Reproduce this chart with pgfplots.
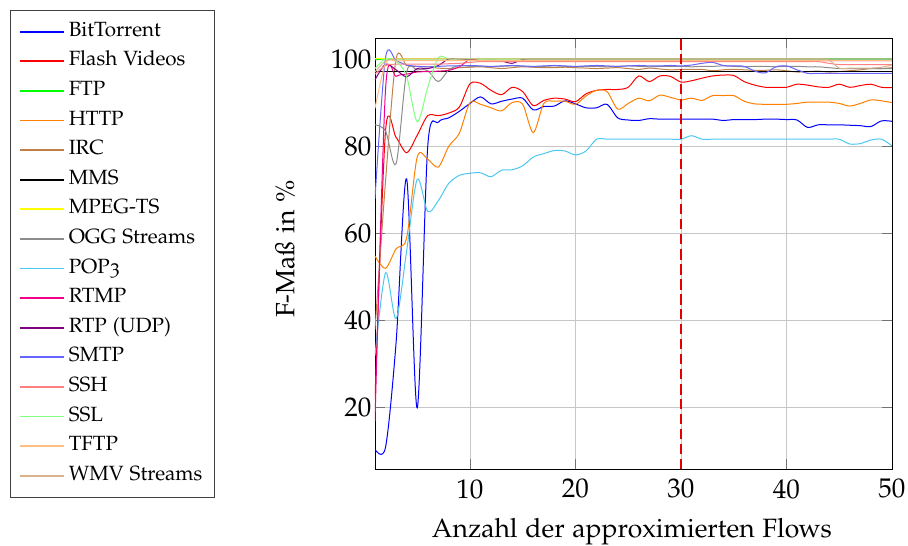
\documentclass[border=0pt]{standalone}
\usepackage[T1]{fontenc}
\usepackage[osf]{mathpazo}
\usepackage{pgfplots}
\usepackage{pgfplotstable}
\pgfplotsset{compat=1.18}

\definecolor{cBT}{rgb}{0,0,1}
\definecolor{cFV}{rgb}{1,0,0}
\definecolor{cFTP}{rgb}{0,1,0}
\definecolor{cHTTP}{rgb}{1,0.5,0}
\definecolor{cIRC}{rgb}{0.75,0.5,0.3}
\definecolor{cMMS}{rgb}{0,0,0}
\definecolor{cMPEG}{rgb}{1,1,0}
\definecolor{cOGG}{rgb}{0.55,0.55,0.55}
\definecolor{cPOP}{rgb}{0.3,0.78,0.95}
\definecolor{cRTMP}{rgb}{0.95,0,0.55}
\definecolor{cRTP}{rgb}{0.5,0,0.5}
\definecolor{cSMTP}{rgb}{0.4,0.4,1}
\definecolor{cSSH}{rgb}{1,0.5,0.5}
\definecolor{cSSL}{rgb}{0.5,1,0.5}
\definecolor{cTFTP}{rgb}{1,0.75,0.5}
\definecolor{cWMV}{rgb}{0.85,0.7,0.55}

% F-measure (%) per protocol over the number of approximated flows
\pgfplotstableread{
x  bt   fv   ftp   http irc  mms  mpeg ogg  pop  rtmp rtp  smtp  ssh  ssl   tftp wmv
1  10.5 22   99.8  54.8 38   97.1 100  84.9 32   17   95.2 68    96.5 97.8  88.7 97.0
2  11   83.5 100   52   72   97.1 100  83.5 51   93   98.8 100.3 98.5 100   99.0 99.5
3  35   82   100   56.5 100  97.1 100  76   40.5 96   97.5 99.6  98.8 99.5  99.5 100
4  72.5 78.5 100   59   98.5 97.1 100  97   56   96.5 95.9 98.6  98.8 96    99.6 100
5  20   82.5 100   77.5 98.3 97.1 100  97.5 72.4 97   97.8 98.3  98.8 85.6  99.6 100
6  80   87   100   77   98.2 97.1 100  97.3 65   97.1 97.8 98.2  98.8 93.5  99.6 100
7  85.5 87   100   75.2 97.9 97.1 100  94.8 67.5 97.2 98.5 98.3  98.8 100.3 99.6 100
8  86.5 87.6 100   80   97.8 97.1 100  97.5 71.5 97.4 100  98.4  98.9 100   99.6 100
9  88   89   100   83   98   97.1 100  98.5 73.3 98.2 100  98.4  99.0 100   99.6 100
10 89.8 94.3 100   90   98.1 97.1 100  98.3 73.8 99.9 99.8 98.5  99.2 100   99.6 100
11 91.3 94.4 100   89.6 98.2 97.1 100  98.3 73.9 99.6 99.6 98.4  99.4 100   99.6 100
12 89.7 92.8 100   88.8 98.0 97.1 100  98.2 73.0 99.6 99.7 98.3  99.4 100   99.6 100
13 90.3 91.8 100   88.1 97.8 97.1 100  98.3 74.5 99.6 99.5 98.4  99.4 100   99.6 100
14 90.8 93.5 100   90.0 98.0 97.1 100  98.4 74.6 99.6 99.0 98.5  99.4 100   99.6 100
15 91   92.5 100   89.6 98.2 97.1 100  98.3 75.5 99.6 99.9 98.4  99.4 100   99.6 100
16 88.3 89.3 100   83.1 98.1 97.1 100  98.2 77.5 99.6 100  98.3  99.4 100   99.6 100
17 89.1 90.5 100   89.8 98.0 97.1 100  98.3 78.3 99.6 100  98.4  99.4 100   99.6 100
18 89.2 91.0 100   90.3 98.0 97.1 100  98.4 79.0 99.6 100  98.5  99.4 100   99.6 100
19 90.4 90.8 100   90.3 98.1 97.1 100  98.3 78.9 99.6 100  98.4  99.4 100   99.6 100
20 89.7 90.2 100   89.6 98.0 97.1 100  98.2 78.0 99.6 100  98.3  99.4 100   99.6 100
21 88.8 92.0 100   91.5 97.9 97.1 100  98.3 78.9 99.6 100  98.4  99.4 100   99.6 100
22 88.8 92.8 100   92.8 97.8 97.1 100  98.3 81.6 99.6 100  98.5  99.4 100   99.6 100
23 89.6 93.0 100   92.5 97.9 97.1 100  98.2 81.6 99.6 100  98.4  99.4 100   99.6 100
24 86.5 93.0 100   88.5 98.0 97.1 100  98.3 81.6 99.6 100  98.3  99.4 100   99.6 100
25 86.0 93.5 100   89.8 97.8 97.1 100  98.4 81.6 99.6 100  98.4  99.4 100   99.6 100
26 85.9 96.1 100   91.0 97.6 97.1 100  98.3 81.6 99.6 100  98.5  99.4 100   99.6 100
27 86.3 94.8 100   90.4 97.9 97.1 100  98.2 81.6 99.6 100  98.4  99.4 100   99.6 100
28 86.2 96.1 100   91.7 97.7 97.1 100  98.3 81.6 99.6 100  98.4  99.4 100   99.6 100
29 86.2 96.0 100   91.2 97.5 97.1 100  98.3 81.6 99.6 100  98.5  99.4 100   99.6 100
30 86.2 94.7 100   90.6 97.6 97.1 100  98.3 81.6 99.6 100  98.4  99.4 100   99.6 100
31 86.2 95.0 100   91.0 97.6 97.1 100  98.2 82.4 99.6 100  98.6  99.4 100   99.6 100
32 86.2 95.6 100   90.5 97.6 97.1 100  98.3 81.6 99.6 100  99.0  99.4 100   99.6 100
33 86.2 96.1 100   91.6 97.3 97.1 100  98.3 81.6 99.6 100  99.2  99.4 100   99.6 100
34 85.9 96.3 100   91.6 97.5 97.1 100  98.4 81.6 99.6 100  98.5  99.4 100   99.6 100
35 86.1 96.2 100   91.6 97.6 97.1 100  98.3 81.6 99.6 100  98.4  99.4 100   99.6 100
36 86.1 94.8 100   90.3 97.5 97.1 100  98.2 81.6 99.6 100  98.3  99.4 100   99.6 100
37 86.1 94.0 100   89.7 97.4 97.1 100  98.3 81.6 99.6 100  97.2  99.4 100   99.6 100
38 86.2 93.5 100   89.6 97.4 97.1 100  98.3 81.6 99.6 100  96.8  99.4 100   99.6 100
39 86.2 93.5 100   89.6 97.5 97.1 100  98.2 81.6 99.6 100  98.2  99.4 100   99.6 100
40 86.1 93.5 100   89.6 97.3 97.1 100  98.3 81.6 99.6 100  98.4  99.4 100   99.6 100
41 86.0 94.2 100   89.8 97.0 97.1 100  98.3 81.6 99.6 100  97.5  99.4 100   99.6 100
42 84.3 94.0 100   90.1 97.1 97.1 100  98.2 81.6 99.6 100  96.7  99.4 100   99.6 100
43 84.9 93.6 100   90.1 97.2 97.1 100  98.2 81.6 99.6 100  96.7  99.4 100   99.6 100
44 84.9 93.5 100   90.1 97.0 97.1 100  98.0 81.6 99.6 100  96.7  99.0 100   99.6 99.8
45 84.9 94.2 100   89.8 97.1 97.1 100  97.8 81.6 99.6 100  96.7  98.7 100   99.6 97.9
46 84.8 93.5 100   89.2 97.3 97.1 100  97.8 80.5 99.6 100  96.7  98.7 100   99.6 97.9
47 84.7 93.9 100   89.8 97.5 97.1 100  97.8 80.6 99.6 100  96.7  98.7 100   99.6 97.9
48 84.5 94.2 100   90.6 97.8 97.1 100  97.8 81.4 99.6 100  96.7  98.7 100   99.6 97.9
49 85.8 93.5 100   90.4 97.8 97.1 100  97.8 81.6 99.6 100  96.7  98.7 100   99.6 98.1
50 85.7 93.4 100   90.0 98.0 97.1 100  97.8 80.1 99.6 100  96.7  98.7 100   99.6 98.6
}\fmass

\begin{document}
\begin{tikzpicture}
\begin{axis}[
  width=517pt, height=431pt, scale only axis,
  xmin=1, xmax=50, ymin=6, ymax=104.8,
  xtick={10,20,30,40,50},
  ytick={20,40,60,80,100},
  grid=major,
  grid style={black!22, line width=0.9pt},
  axis line style={black, line width=0.8pt},
  major tick length=10pt,
  tick style={black!55, line width=0.9pt},
  tick label style={font=\fontsize{27}{32}\selectfont},
  xticklabel style={yshift=-7pt},
  xlabel={Anzahl der approximierten Flows},
  ylabel={F-Ma\ss{} in \%},
  label style={font=\fontsize{26.5}{31}\selectfont},
  xlabel style={at={(axis description cs:0.497,-0.146)}, anchor=center},
  ylabel style={at={(axis description cs:-0.174,0.51)}, anchor=center},
  legend style={
    at={(axis description cs:-0.706,1.065)}, anchor=north west,
    draw=black!75, line width=0.8pt,
    font=\fontsize{20.6}{24}\selectfont,
    inner xsep=9pt, inner ysep=9.5pt,
    nodes={inner sep=2.5pt, text height=14pt, text depth=4.6pt},
    row sep=6pt,
    cells={anchor=west},
    /tikz/every odd column/.append style={column sep=1pt},
  },
  legend image code/.code={\draw[#1, line width=1.9pt] (0pt,0pt) -- (44pt,0pt);},
  every axis plot/.append style={line width=1pt, smooth, no markers},
]
\addplot[cBT]   table[x=x, y=bt]   {\fmass};
\addplot[cFV]   table[x=x, y=fv]   {\fmass};
\addplot[cFTP]  table[x=x, y=ftp]  {\fmass};
\addplot[cHTTP] table[x=x, y=http] {\fmass};
\addplot[cIRC]  table[x=x, y=irc]  {\fmass};
\addplot[cMMS]  table[x=x, y=mms]  {\fmass};
\addplot[cMPEG] table[x=x, y=mpeg] {\fmass};
\addplot[cOGG]  table[x=x, y=ogg]  {\fmass};
\addplot[cPOP]  table[x=x, y=pop]  {\fmass};
\addplot[cRTMP] table[x=x, y=rtmp] {\fmass};
\addplot[cRTP]  table[x=x, y=rtp]  {\fmass};
\addplot[cSMTP] table[x=x, y=smtp] {\fmass};
\addplot[cSSH]  table[x=x, y=ssh]  {\fmass};
\addplot[cSSL]  table[x=x, y=ssl]  {\fmass};
\addplot[cTFTP] table[x=x, y=tftp] {\fmass};
\addplot[cWMV]  table[x=x, y=wmv]  {\fmass};
\legend{BitTorrent, Flash Videos, FTP, HTTP, IRC, MMS, MPEG-TS, OGG Streams,
  POP3, RTMP, RTP (UDP), SMTP, SSH, SSL, TFTP, WMV Streams}
% chosen number of flows
\addplot[red!90!black, line width=2.5pt, dash pattern=on 10pt off 5pt, forget plot]
  coordinates {(30,6) (30,104.8)};
\end{axis}
\pgfresetboundingbox
\path ([shift={(-375pt,-77pt)}]current axis.south west)
  rectangle ([shift={(16pt,38pt)}]current axis.north east);
\end{tikzpicture}
\end{document}
